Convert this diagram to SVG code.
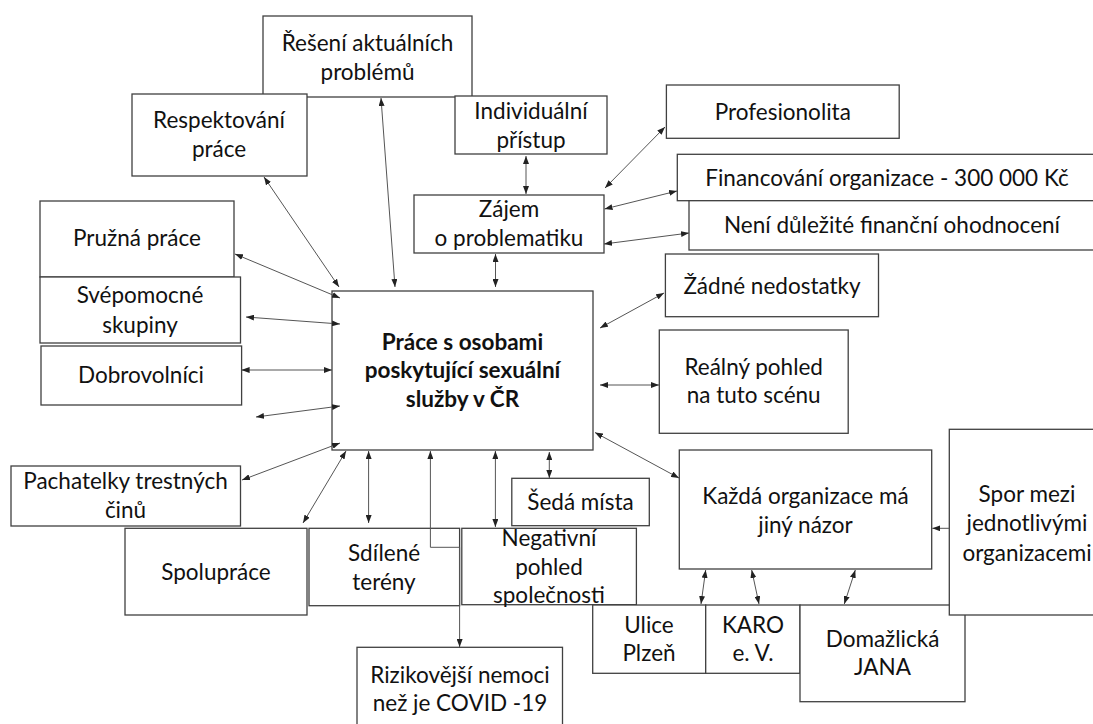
<svg xmlns="http://www.w3.org/2000/svg" width="1093" height="724" viewBox="0 0 1093 724">
<defs>
<marker id="ah" viewBox="0 0 8 6" refX="8" refY="3" markerWidth="8" markerHeight="6" markerUnits="userSpaceOnUse" orient="auto-start-reverse">
<path d="M0,0 L8,3 L0,6 z" fill="#222"/>
</marker>
<style>
.box{fill:#fff;stroke:#404040;stroke-width:1.3}
.t{font-family:Lato,"Liberation Sans",sans-serif;font-size:22.5px;fill:#111;text-anchor:middle}
.b{font-weight:bold}
.c{fill:none;stroke:#555;stroke-width:1}
.bi{marker-start:url(#ah);marker-end:url(#ah)}
.one{marker-end:url(#ah)}
</style>
</defs>
<rect width="1093" height="724" fill="#fff"/>

<g id="n-reseni"><rect class="box" x="263" y="16" width="209" height="81"/>
<text class="t" x="367.5" y="50.5">Řešení aktuálních</text><text class="t" x="367.5" y="79.5">problémů</text></g>
<g id="n-respektovani"><rect class="box" x="132" y="94" width="175" height="82"/>
<text class="t" x="219" y="127.5">Respektování</text><text class="t" x="219" y="156.5">práce</text></g>
<g id="n-individualni"><rect class="box" x="455" y="96" width="152" height="58"/>
<text class="t" x="531" y="119">Individuální</text><text class="t" x="531" y="148">přístup</text></g>
<g id="n-zajem"><rect class="box" x="414" y="195" width="190" height="58"/>
<text class="t" x="509" y="216.5">Zájem</text><text class="t" x="509" y="245.5">o problematiku</text></g>
<g id="n-pruzna"><rect class="box" x="40" y="201" width="194" height="76"/>
<text class="t" x="137" y="246">Pružná práce</text></g>
<g id="n-svepomocne"><rect class="box" x="40" y="277" width="200.5" height="66"/>
<text class="t" x="140" y="302.5">Svépomocné</text><text class="t" x="140" y="332.5">skupiny</text></g>
<g id="n-dobrovolnici"><rect class="box" x="41" y="346" width="200.6" height="59"/>
<text class="t" x="141" y="382.5">Dobrovolníci</text></g>
<g id="n-prace"><rect class="box" x="332" y="291" width="261" height="159"/>
<text class="t b" x="462.5" y="349.5">Práce s osobami</text><text class="t b" x="462.5" y="378">poskytující sexuální</text><text class="t b" x="462.5" y="406.5">služby v ČR</text></g>
<g id="n-pachatelky"><rect class="box" x="11" y="466" width="229.5" height="60"/>
<text class="t" x="125.5" y="488.5">Pachatelky trestných</text><text class="t" x="125.5" y="517.5">činů</text></g>
<g id="n-spoluprace"><rect class="box" x="125" y="528.3" width="182" height="86.7"/>
<text class="t" x="216" y="579.5">Spolupráce</text></g>
<g id="n-sdilene"><rect class="box" x="309" y="528.3" width="150.6" height="77.4"/>
<text class="t" x="384" y="560.5">Sdílené</text><text class="t" x="384" y="589.5">terény</text></g>
<g id="n-negativni"><rect class="box" x="461.8" y="528.3" width="174.6" height="76.4"/>
<text class="t" x="549" y="545.5">Negativní</text><text class="t" x="549" y="574.5">pohled</text><text class="t" x="549" y="602.5">společnosti</text></g>
<g id="n-seda"><rect class="box" x="511.8" y="478.3" width="137.5" height="47.4"/>
<text class="t" x="580.5" y="509.5">Šedá místa</text></g>
<g id="n-rizikovejsi"><rect class="box" x="357" y="647.3" width="205.5" height="90"/>
<text class="t" x="460" y="682.5">Rizikovější nemoci</text><text class="t" x="460" y="711">než je COVID -19</text></g>
<g id="n-profesionolita"><rect class="box" x="666.4" y="85" width="232.8" height="53.3"/>
<text class="t" x="782.8" y="119.5">Profesionolita</text></g>
<g id="n-financovani"><rect class="box" x="677.3" y="154.3" width="430" height="46.4"/>
<text class="t" x="887" y="186">Financování organizace - 300 000 Kč</text></g>
<g id="n-neni"><rect class="box" x="689" y="200.7" width="420" height="49.3"/>
<text class="t" x="892" y="232.5">Není důležité finanční ohodnocení</text></g>
<g id="n-zadne"><rect class="box" x="665.4" y="254" width="213.1" height="62.7"/>
<text class="t" x="772" y="293.5">Žádné nedostatky</text></g>
<g id="n-realny"><rect class="box" x="659.3" y="330" width="188.9" height="103.3"/>
<text class="t" x="753.7" y="374.5">Reálný pohled</text><text class="t" x="753.7" y="402.5">na tuto scénu</text></g>
<g id="n-kazda"><rect class="box" x="679.3" y="450" width="252.4" height="119"/>
<text class="t" x="805.5" y="503.5">Každá organizace má</text><text class="t" x="805.5" y="532.5">jiný názor</text></g>
<g id="n-ulice"><rect class="box" x="592.7" y="605" width="113" height="68.3"/>
<text class="t" x="649" y="632.5">Ulice</text><text class="t" x="649" y="661">Plzeň</text></g>
<g id="n-karo"><rect class="box" x="705.7" y="605" width="94.3" height="68.3"/>
<text class="t" x="753" y="632.5">KARO</text><text class="t" x="753" y="661">e. V.</text></g>
<g id="n-domazlicka"><rect class="box" x="800" y="605" width="165" height="96.7"/>
<text class="t" x="882.5" y="646.5">Domažlická</text><text class="t" x="882.5" y="675">JANA</text></g>
<g id="n-spor"><rect class="box" x="949.3" y="429.3" width="160" height="185.7"/>
<text class="t" x="1027" y="501.5">Spor mezi</text><text class="t" x="1027" y="531">jednotlivými</text><text class="t" x="1027" y="560.5">organizacemi</text></g>

<g id="connectors">
<line class="c bi" x1="264" y1="177" x2="339" y2="287"/>
<line class="c bi" x1="381" y1="98" x2="395" y2="287"/>
<line class="c bi" x1="526" y1="156" x2="526" y2="194"/>
<line class="c bi" x1="495.5" y1="254" x2="495.5" y2="287"/>
<line class="c bi" x1="235" y1="254" x2="340" y2="298"/>
<line class="c bi" x1="246" y1="317" x2="340" y2="324"/>
<line class="c bi" x1="241.6" y1="370" x2="332" y2="370"/>
<line class="c bi" x1="256" y1="417" x2="340" y2="406"/>
<line class="c bi" x1="242" y1="480" x2="340" y2="443"/>
<line class="c bi" x1="303" y1="523" x2="346" y2="451"/>
<line class="c bi" x1="368.6" y1="451" x2="368.6" y2="523"/>
<polyline class="c bi" points="430.4,451 430.4,547.3 459.6,547.3 459.6,647"/>
<line class="c bi" x1="495.4" y1="451" x2="495.4" y2="527"/>
<line class="c bi" x1="549.3" y1="452" x2="549.3" y2="478"/>
<line class="c bi" x1="595" y1="432.5" x2="679" y2="478"/>
<line class="c one" x1="949.3" y1="528.3" x2="932.3" y2="528.3"/>
<line class="c bi" x1="701" y1="604" x2="705.7" y2="570"/>
<line class="c bi" x1="759" y1="604" x2="751.7" y2="570"/>
<line class="c bi" x1="844.3" y1="604" x2="855.3" y2="570"/>
<line class="c bi" x1="665" y1="127" x2="605" y2="188"/>
<line class="c bi" x1="677" y1="191" x2="604.5" y2="209"/>
<line class="c bi" x1="689" y1="233" x2="604" y2="244"/>
<line class="c bi" x1="664" y1="293" x2="600" y2="328"/>
<line class="c bi" x1="659" y1="385" x2="600" y2="385"/>
</g>
</svg>
